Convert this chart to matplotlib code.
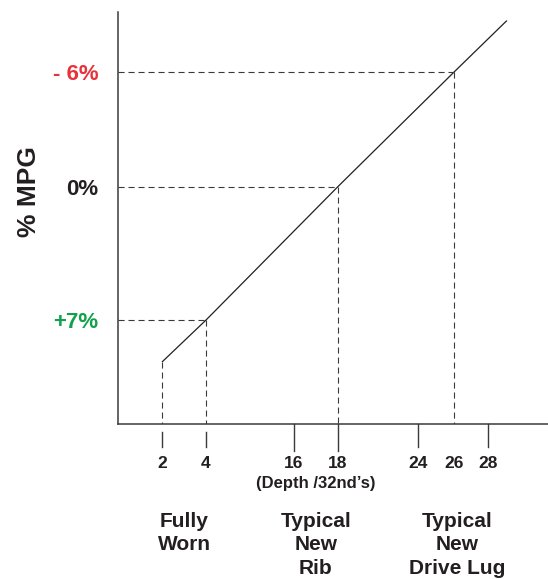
import numpy as np
import matplotlib
matplotlib.use("Agg")
import matplotlib.pyplot as plt
from matplotlib.transforms import blended_transform_factory

# --- Data ---
depth_ticks = [2, 4, 16, 18, 24, 26, 28]
line_depth = [2, 4, 18, 26, 29.1]
line_mpg = [9.2, 7, 0, -6, -8.7]
ref_depth = [4, 18, 26]          # depths where the dashed guides meet the line
ref_mpg = [7, 0, -6]
ref_labels = ["+7%", "0%", "- 6%"]
ref_colors = ["#13a04a", "#231f20", "#e8323a"]
group_depth = [3, 17, 26.2]
group_labels = ["Fully\nWorn", "Typical\nNew\nRib", "Typical\nNew\nDrive Lug"]

# --- Schematic (non-linear) depth scale ---
KNOT_DEPTH = [-100, 0, 2, 4, 16, 18, 24, 26, 28, 31.5, 100]
KNOT_POS = [118 - 2200, 118, 162, 206, 294, 338, 418, 454, 488, 548, 548 + 68.5 * 17.1]


def fwd(x):
    return np.interp(x, KNOT_DEPTH, KNOT_POS)


def inv(x):
    return np.interp(x, KNOT_POS, KNOT_DEPTH)


TEXT = "#231f20"
plt.rcParams["font.family"] = ["Liberation Sans", "DejaVu Sans"]
plt.rcParams["font.weight"] = "bold"

fig = plt.figure(figsize=(5.48, 5.79), dpi=100)
ax = fig.add_axes([118 / 548, 1 - 424 / 579, 430 / 548, 412 / 579])
ax.set_xscale("function", functions=(fwd, inv))
ax.set_xlim(0, 31.5)
ax.set_ylim(12.45, -9.15)

# main line
ax.plot(line_depth, line_mpg, color="#231f20", lw=0.9, solid_capstyle="butt")

# dashed guides
dash = dict(color="#3a3a3a", lw=0.8, linestyle=(0, (5.5, 3.5)))
for d, m in zip(ref_depth, ref_mpg):
    ax.plot([0, d], [m, m], **dash)
ax.plot([line_depth[0], line_depth[0]], [line_mpg[0], 12.45], **dash)
for d, m in zip(ref_depth, ref_mpg):
    ax.plot([d, d], [m, 12.45], **dash)

# spines
for s in ["top", "right"]:
    ax.spines[s].set_visible(False)
for s in ["left", "bottom"]:
    ax.spines[s].set_color("#3a3a3a")
    ax.spines[s].set_linewidth(1.1)

# y ticks as coloured labels
ax.set_yticks(ref_mpg)
ax.set_yticklabels(ref_labels, fontsize=16, fontweight="bold")
for lab, c in zip(ax.get_yticklabels(), ref_colors):
    lab.set_color(c)
ax.tick_params(axis="y", length=0, pad=14)

# x ticks
ax.set_xticks(depth_ticks)
ax.set_xticklabels([str(d) for d in depth_ticks], fontsize=12.5, fontweight="bold", color=TEXT)
ax.tick_params(axis="x", length=0, pad=23)
ax.minorticks_off()

trans = blended_transform_factory(ax.transData, ax.transAxes)
tick_style = dict(color="#3a3a3a", lw=1.0, transform=trans, clip_on=False)
for d in [16, 18]:
    ax.plot([d, d], [0, -0.065], **tick_style)
for d in [24, 28]:
    ax.plot([d, d], [0, -0.055], **tick_style)
for d in [2, 4]:
    ax.plot([d, d], [-0.019, -0.057], **tick_style)

ax.text(17, -0.145, "(Depth /32nd\u2019s)", transform=trans, ha="center", va="center",
        fontsize=12, fontweight="bold", color=TEXT)

for d, lab in zip(group_depth, group_labels):
    ax.text(d, -0.214, lab, transform=trans, ha="center", va="top",
            fontsize=15, fontweight="bold", color=TEXT, linespacing=1.28)

ax.set_ylabel("% MPG", fontsize=19, fontweight="bold", color=TEXT)
ax.yaxis.set_label_coords(-0.18, 0.563)

fig.savefig("out.png", dpi=100)
